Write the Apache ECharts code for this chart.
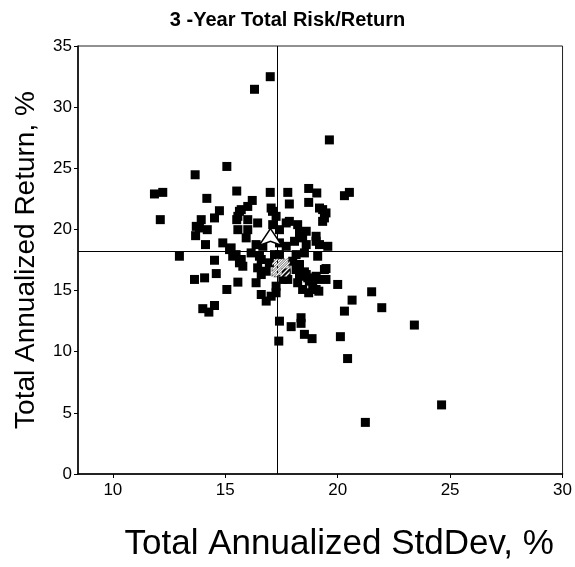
<!DOCTYPE html>
<html>
<head>
<meta charset="utf-8">
<script src="https://cdn.jsdelivr.net/npm/echarts@6/dist/echarts.min.js"></script>
<style>html,body{margin:0;padding:0;background:#fff;}#c{width:575px;height:567px;}</style>
</head>
<body>
<div id="c"></div>
<script>
// Funds: total annualized standard deviation (%) and total annualized return (%)
var fundStdDev = [
  17.0, 16.3, 19.63, 13.66, 15.07, 11.85, 12.22, 14.18, 15.51, 17.0,
  17.78, 17.85, 18.71, 19.07, 18.71, 16.2, 12.11, 14.74, 14.52, 13.93,
  15.63, 16.44, 17.1, 17.71, 18.22, 19.33, 19.33, 20.52, 20.3, 13.85,
  14.2, 13.68, 14.12, 14.89, 15.71, 16.0, 15.51, 15.56, 16.0, 16.0,
  15.93, 12.96, 14.52, 15.19, 15.48, 15.71, 15.78, 16.15, 14.6, 14.08,
  13.63, 15.07, 15.56, 16.37, 14.0, 14.27, 14.52, 16.6, 16.82, 17.41,
  17.38, 17.93, 18.37, 18.37, 18.52, 18.86, 20.12, 20.3, 20.64, 21.96,
  20.44, 21.23, 20.0, 21.51, 23.41, 24.62, 19.48, 19.04, 19.16, 18.71,
  18.52, 18.08, 18.52, 19.19, 19.56, 18.22, 17.78, 17.04, 17.26, 18.6,
  18.44, 19.19, 19.48, 19.04, 19.11, 16.67, 16.6, 16.96, 16.82, 17.41,
  17.71, 17.41, 18.15, 18.3, 18.3, 18.6, 18.74, 17.26, 17.26, 18.44,
  19.04, 19.11, 15.33, 15.63, 16.37, 16.52, 16.44, 16.6, 17.19, 18.0,
  18.15, 17.71, 17.56, 18.67, 18.89, 19.41, 17.04, 15.56, 13.71, 15.26,
  17.11, 17.41, 17.85, 18.3, 18.6, 19.41, 19.04, 19.48
];
var fundReturn = [
  32.49, 31.46, 27.32, 24.47, 25.15, 22.9, 23.03, 22.54, 23.14, 23.03,
  23.03, 22.08, 23.35, 22.98, 22.21, 22.37, 20.8, 21.53, 20.94, 20.8,
  21.48, 20.53, 21.48, 20.53, 20.39, 21.62, 20.66, 23.03, 22.76, 20.12,
  19.98, 19.49, 18.76, 18.9, 21.62, 21.88, 20.8, 19.98, 20.8, 19.98,
  19.31, 17.81, 17.48, 18.35, 17.94, 17.54, 16.99, 18.08, 16.39, 16.04,
  15.91, 15.09, 15.69, 15.64, 13.52, 13.24, 13.78, 14.68, 14.14, 12.5,
  10.87, 12.05, 12.78, 12.32, 11.42, 11.07, 11.23, 13.32, 14.22, 13.6,
  9.44, 4.22, 15.5, 14.9, 12.18, 5.65, 16.8, 16.17, 14.95, 14.82,
  16.53, 19.03, 18.08, 18.76, 18.62, 15.64, 15.91, 21.75, 21.07, 19.85,
  19.31, 21.75, 21.35, 19.03, 17.81, 18.62, 17.54, 17.27, 16.58, 18.9,
  18.62, 17.94, 17.94, 17.13, 16.17, 16.31, 15.77, 15.36, 14.82, 15.09,
  15.09, 15.91, 17.81, 17.27, 18.76, 17.81, 16.86, 16.31, 17.94, 17.4,
  16.72, 16.45, 15.91, 16.04, 15.36, 16.72, 14.54, 21.07, 20.25, 18.49,
  20.39, 19.98, 20.66, 19.71, 18.76, 20.94, 19.44, 15.91
];
// Special markers
var indexPoint = [17.01, 20.07];     // arrow marker
var categoryPoint = [17.48, 16.86];  // hatched marker
// Cross-hair (average) lines
var crossStdDev = 17.33;
var crossReturn = 18.23;
// Axis ticks
var xTicks = [10, 15, 20, 25, 30];
var yTicks = [0, 5, 10, 15, 20, 25, 30, 35];

var fundData = fundStdDev.map(function (v, i) { return [v, fundReturn[i]]; });

var hatchPath = 'path://M5 0L8 0L0 8L0 5Z M11 0L14 0L0 14L0 11Z M16.5 0L19.5 0L0 19.5L0 16.5Z ' +
  'M20 2L20 5L5 20L2 20Z M20 7.5L20 10.5L10.5 20L7.5 20Z M20 13L20 16L16 20L13 20Z';

var chart = echarts.init(document.getElementById('c'), null, { renderer: 'canvas' });
var font = 'Liberation Sans, Arial, sans-serif';
chart.setOption({
  animation: false,
  backgroundColor: '#fff',
  title: {
    text: '3 -Year Total Risk/Return',
    left: 'center',
    top: 5,
    textStyle: { fontFamily: font, fontSize: 20, fontWeight: 'bold', color: '#000' }
  },
  grid: { left: 78, right: 11, top: 46, bottom: 92, show: true, borderColor: '#222', borderWidth: 1, backgroundColor: 'transparent' },
  xAxis: {
    type: 'value', min: 8.45, max: 30,
    name: 'Total Annualized StdDev, %', nameLocation: 'middle', nameGap: 53,
    nameTextStyle: { fontFamily: font, fontSize: 35, color: '#000', padding: [0, 0, 0, 38] },
    axisLine: { show: true, lineStyle: { color: '#000', width: 1.5 } },
    axisTick: { show: true, customValues: xTicks, length: 4, lineStyle: { color: '#000' } },
    axisLabel: { customValues: xTicks, fontFamily: font, fontSize: 17, color: '#000', margin: 8 },
    splitLine: { show: false }
  },
  yAxis: {
    type: 'value', min: 0, max: 35, interval: 5,
    name: 'Total Annualized Return, %', nameLocation: 'middle', nameGap: 38,
    nameTextStyle: { fontFamily: font, fontSize: 28, color: '#000' },
    axisLine: { show: true, lineStyle: { color: '#000', width: 1.5 } },
    axisTick: { show: true, length: 4, lineStyle: { color: '#000' } },
    axisLabel: { fontFamily: font, fontSize: 17, color: '#000', margin: 6 },
    splitLine: { show: false }
  },
  series: [
    {
      type: 'scatter', data: [], z: 1,
      markLine: {
        silent: true, symbol: 'none', animation: false,
        label: { show: false },
        lineStyle: { color: '#000', width: 1, type: 'solid' },
        data: [{ xAxis: crossStdDev }, { yAxis: crossReturn }]
      }
    },
    {
      type: 'scatter', data: fundData, symbol: 'rect', symbolSize: 9, z: 3,
      itemStyle: { color: '#000', opacity: 1 }
    },
    {
      type: 'scatter', data: [indexPoint], symbol: 'arrow', symbolSize: [17, 17], z: 5,
      itemStyle: { color: '#fff', borderColor: '#000', borderWidth: 1.5, opacity: 1 }
    },
    {
      type: 'scatter', data: [categoryPoint], symbol: hatchPath, symbolSize: [18, 18], z: 5,
      itemStyle: { color: '#fff', borderColor: '#000', borderWidth: 0.6, opacity: 1 }
    }
  ]
});
</script>
</body>
</html>
